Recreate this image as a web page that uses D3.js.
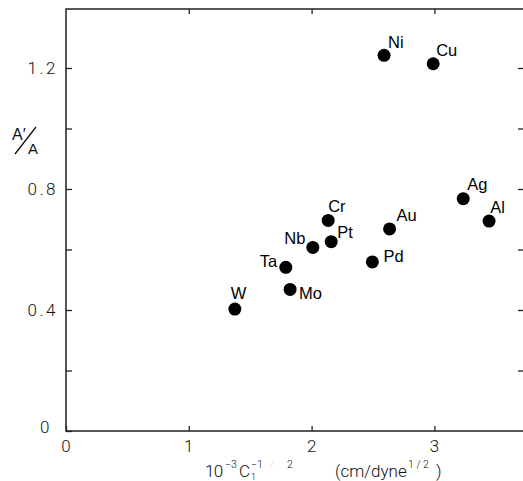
<html>
<head>
<script src="https://d3js.org/d3.v7.min.js"></script>
<style>
body { margin: 0; background: #fff; }
svg { font-family: "Liberation Sans", Arial, sans-serif; }
.frame { fill: none; stroke: #222; stroke-width: 1.5px; }
.tick line { stroke: #222; stroke-width: 1.3px; }
.tick text { font-family: Roboto, "Liberation Sans", sans-serif; font-weight: 300; fill: #111; }
.dot { fill: #000; }
.lbl { font-size: 16.5px; fill: #000; }
</style>
</head>
<body>
<svg id="chart" width="523" height="481"></svg>
<script>
// data
var metals = ["W", "Mo", "Ta", "Nb", "Pt", "Cr", "Pd", "Au", "Ag", "Al", "Ni", "Cu"];
var cInv = [1.375, 1.825, 1.79, 2.01, 2.16, 2.135, 2.495, 2.635, 3.235, 3.445, 2.59, 2.99];
var ratio = [0.403, 0.468, 0.541, 0.607, 0.626, 0.696, 0.559, 0.668, 0.768, 0.694, 1.242, 1.214];
var yTicks = [0, 0.2, 0.4, 0.6, 0.8, 1.0, 1.2];
var yTickLabels = ["0", "", "0.4", "", "0.8", "", "1.2"];
var xTicks = [0, 1, 2, 3];
var xTickLabels = ["0", "1", "2", "3"];

// where each label sits relative to its dot
var labelPos = {
  W: [-4, -10, "start"], Mo: [9, 9.5, "start"], Ta: [-8.5, 0, "end"],
  Nb: [-7.5, -3, "end"], Pt: [6, -3.5, "start"], Cr: [0, -8.5, "start"],
  Pd: [11, 0, "start"], Au: [7, -8.3, "start"], Ag: [4, -8.7, "start"],
  Al: [1.3, -7.7, "start"], Ni: [4, -7.6, "start"], Cu: [3, -7.7, "start"]
};

var mLeft = 66, mRight = 524, mTop = 9, mBottom = 431;
var x = d3.scaleLinear().domain([0, (mRight - mLeft) / 122.8]).range([mLeft, mRight]);
var y = d3.scaleLinear().domain([0, (mBottom - mTop) / 302.5]).range([mBottom, mTop]);

var chart = d3.select("#chart");
var pts = metals.map(function(m, i) { return {name: m, x: cInv[i], y: ratio[i]}; });

// frame (no right edge visible in the scan)
chart.append("path").attr("class", "frame")
  .attr("d", "M" + mRight + "," + mTop + "H" + mLeft + "V" + mBottom + "H" + mRight);

// axes, ticks pointing inward
var xAxis = chart.append("g").attr("transform", "translate(0," + mBottom + ")")
  .call(d3.axisBottom(x).tickValues(xTicks).tickSizeInner(-5).tickSizeOuter(0)
    .tickPadding(9).tickFormat(function(d, i) { return xTickLabels[i]; }));
chart.append("g").attr("transform", "translate(0," + mTop + ")")
  .call(d3.axisTop(x).tickValues(xTicks.slice(1)).tickSizeInner(-5).tickSizeOuter(0).tickFormat(""));
var yAxis = chart.append("g").attr("transform", "translate(" + mLeft + ",0)")
  .call(d3.axisLeft(y).tickValues(yTicks).tickSizeInner(-6).tickSizeOuter(0)
    .tickPadding(8).tickFormat(function(d, i) { return yTickLabels[i]; }));
chart.append("g").attr("transform", "translate(" + mRight + ",0)")
  .call(d3.axisRight(y).tickValues(yTicks.slice(1)).tickSizeInner(-6).tickSizeOuter(0).tickFormat(""));
chart.selectAll(".domain").remove();

xAxis.selectAll("text").attr("font-size", 17).attr("letter-spacing", 1);
yAxis.selectAll("text").attr("font-size", 17).attr("letter-spacing", 2.5);
yAxis.selectAll(".tick").filter(function(d) { return d === 0; })
  .select("text").attr("dx", -6).attr("dy", "0.1em");

// dots
chart.selectAll(".dot").data(pts).enter().append("circle")
  .attr("class", "dot")
  .attr("cx", function(d) { return x(d.x); })
  .attr("cy", function(d) { return y(d.y); })
  .attr("r", 6.5);

chart.selectAll(".lbl").data(pts).enter().append("text")
  .attr("class", "lbl")
  .attr("x", function(d) { return x(d.x) + labelPos[d.name][0]; })
  .attr("y", function(d) { return y(d.y) + labelPos[d.name][1]; })
  .attr("text-anchor", function(d) { return labelPos[d.name][2]; })
  .text(function(d) { return d.name; });

// y label  A'/A
var yl = chart.append("g").attr("font-size", 16).attr("fill", "#111");
yl.append("text").attr("x", 12).attr("y", 140).text("A\u2032");
yl.append("line").attr("x1", 15).attr("y1", 154).attr("x2", 36).attr("y2", 127)
  .attr("stroke", "#111").attr("stroke-width", 1.3);
yl.append("text").attr("x", 28).attr("y", 153.5).attr("font-size", 15).text("A");

// x label
var xl = chart.append("text").attr("font-size", 17).attr("fill", "#111")
  .attr("font-family", "Roboto, sans-serif").attr("font-weight", 300);
function piece(px, py, size, str, col) {
  return xl.append("tspan").attr("x", px).attr("y", py).attr("font-size", size)
    .attr("fill", col || null).text(str);
}
piece(205, 477, 17, "10").attr("letter-spacing", -0.8);
piece(225, 468, 10.5, "\u22123");
piece(239, 477, 17, "C");
piece(251, 480, 9, "1");
piece(251, 468, 10.5, "\u22121");
piece(270, 468, 10.5, "/", "#ddd");
piece(287, 468, 10.5, "2");
piece(335, 477, 17, "(cm/dyne");
piece(408, 468, 10.5, "1 / 2");
piece(436, 477, 17, ")");
</script>
</body>
</html>
